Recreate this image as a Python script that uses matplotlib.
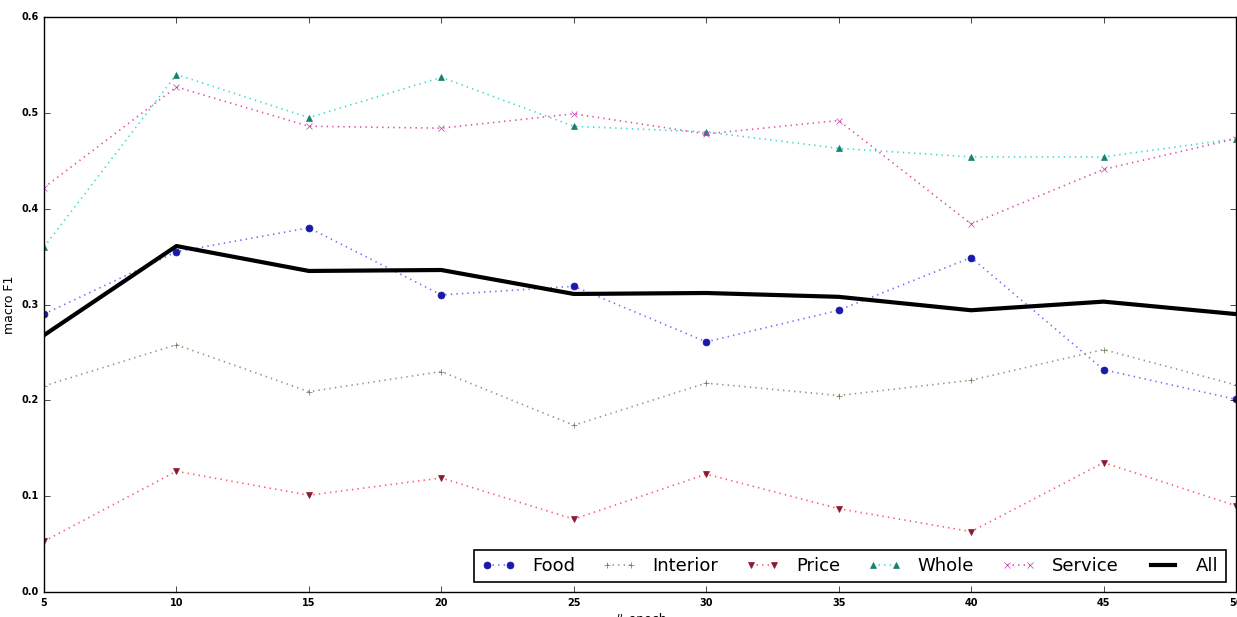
import matplotlib
matplotlib.use("Agg")
import matplotlib.pyplot as plt

# macro F1 per aspect, evaluated every 5 epochs
epochs = [5, 10, 15, 20, 25, 30, 35, 40, 45, 50]
food = [0.290, 0.355, 0.380, 0.310, 0.319, 0.261, 0.294, 0.349, 0.232, 0.201]
interior = [0.215, 0.258, 0.209, 0.230, 0.174, 0.218, 0.205, 0.221, 0.253, 0.216]
price = [0.053, 0.126, 0.101, 0.119, 0.076, 0.123, 0.087, 0.063, 0.135, 0.090]
whole = [0.360, 0.540, 0.495, 0.537, 0.486, 0.480, 0.463, 0.454, 0.454, 0.473]
service = [0.422, 0.527, 0.486, 0.484, 0.499, 0.478, 0.492, 0.384, 0.441, 0.473]
overall = [0.268, 0.361, 0.335, 0.336, 0.311, 0.312, 0.308, 0.294, 0.303, 0.290]

plt.style.use("classic")
fig = plt.figure(figsize=(12.37, 6.17), dpi=100, facecolor="white")
ax = fig.add_axes([44 / 1237, 1 - 592 / 617, 1192 / 1237, 575 / 617])

ax.plot(epochs, food, ":", color="#6f6fff", lw=1.2, marker="o", ms=5,
        mfc="#1a1aa8", mec="#1a1aa8", label="Food")
ax.plot(epochs, interior, ":", color="#8a9a80", lw=1.2, marker="+", ms=5,
        mec="#5a7a50", label="Interior")
ax.plot(epochs, price, ":", color="#ff5a6a", lw=1.2, marker="v", ms=5,
        mfc="#8a1a30", mec="#8a1a30", label="Price")
ax.plot(epochs, whole, ":", color="#3adcd0", lw=1.2, marker="^", ms=5,
        mfc="#1a8070", mec="#1a8070", label="Whole")
ax.plot(epochs, service, ":", color="#e050a8", lw=1.2, marker="x", ms=5,
        mec="#c040b0", label="Service")
ax.plot(epochs, overall, "-", color="black", lw=3, label="All")

ax.set_xlim(5, 50)
ax.set_ylim(0.0, 0.6)
ax.set_xticks(epochs)
ax.set_yticks([0.0, 0.1, 0.2, 0.3, 0.4, 0.5, 0.6])
ax.tick_params(labelsize=7)
for lbl in ax.get_xticklabels() + ax.get_yticklabels():
    lbl.set_fontweight("bold")
ax.set_xlabel("# epoch", fontsize=9, labelpad=4)
ax.set_ylabel("macro F1", fontsize=9, labelpad=4)

leg = ax.legend(loc="lower right", ncol=6, fontsize=13, numpoints=2,
                frameon=True, handlelength=1.9, handletextpad=0.9,
                columnspacing=1.5, borderaxespad=0.55)
leg.get_frame().set_linewidth(1.2)

fig.savefig("out.png", dpi=100, facecolor="white")
